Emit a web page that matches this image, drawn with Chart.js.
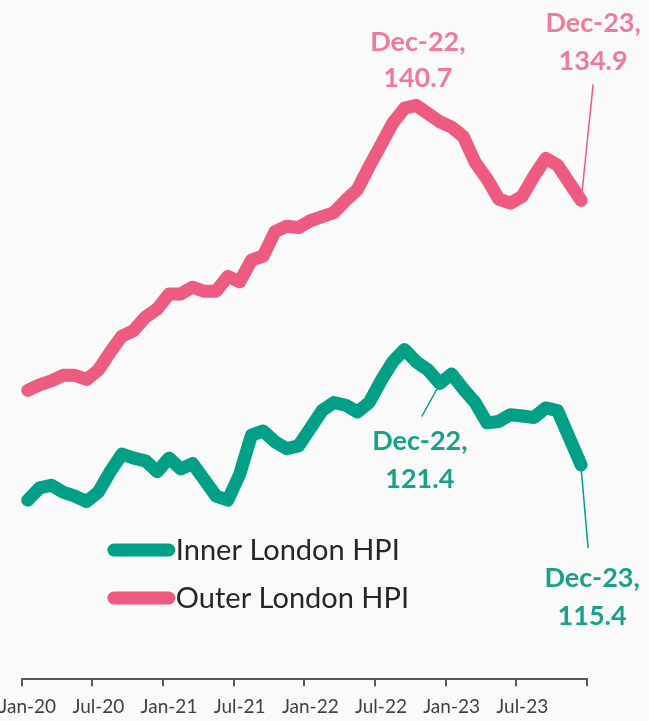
<!DOCTYPE html>
<html>
<head>
<meta charset="utf-8">
<script src="https://cdn.jsdelivr.net/npm/chart.js@4.4.0/dist/chart.umd.min.js"></script>
<style>
html, body { margin: 0; padding: 0; background: #fafafa; overflow: hidden; }
#wrap { position: absolute; left: -10px; top: 0; width: 659px; height: 721px; }
</style>
</head>
<body>
<div id="wrap"><canvas id="chart"></canvas></div>
<script>
// monthly categories, Jan-20 .. Dec-23
const months = [
    'Jan-20', 'Feb-20', 'Mar-20', 'Apr-20', 'May-20', 'Jun-20', 'Jul-20', 'Aug-20', 'Sep-20', 'Oct-20', 'Nov-20', 'Dec-20',
    'Jan-21', 'Feb-21', 'Mar-21', 'Apr-21', 'May-21', 'Jun-21', 'Jul-21', 'Aug-21', 'Sep-21', 'Oct-21', 'Nov-21', 'Dec-21',
    'Jan-22', 'Feb-22', 'Mar-22', 'Apr-22', 'May-22', 'Jun-22', 'Jul-22', 'Aug-22', 'Sep-22', 'Oct-22', 'Nov-22', 'Dec-22',
    'Jan-23', 'Feb-23', 'Mar-23', 'Apr-23', 'May-23', 'Jun-23', 'Jul-23', 'Aug-23', 'Sep-23', 'Oct-23', 'Nov-23', 'Dec-23'
];
const shownTicks = ['Jan-20', 'Jul-20', 'Jan-21', 'Jul-21', 'Jan-22', 'Jul-22', 'Jan-23', 'Jul-23'];

const innerLondon = [
    112.8, 113.7, 113.9, 113.4, 113.1, 112.7, 113.4, 114.9, 116.2, 115.9, 115.7, 114.9,
    115.9, 115.1, 115.5, 114.3, 113.1, 112.8, 114.7, 117.6, 117.9, 117.1, 116.6, 116.8,
    118.1, 119.4, 120.0, 119.8, 119.3, 120.0, 121.6, 123.0, 123.9, 123.0, 122.4, 121.4,
    122.1, 121.0, 120.0, 118.5, 118.6, 119.1, 119.0, 118.9, 119.6, 119.4, 117.4, 115.4
];
const outerLondon = [
    120.9, 121.3, 121.6, 122.0, 122.0, 121.7, 122.4, 123.7, 124.9, 125.3, 126.3, 126.9,
    128.0, 128.0, 128.5, 128.2, 128.2, 129.3, 128.9, 130.5, 130.8, 132.6, 133.0, 132.9,
    133.4, 133.7, 134.0, 134.9, 135.7, 137.4, 139.0, 140.6, 141.7, 141.9, 141.3, 140.7,
    140.3, 139.6, 137.7, 136.5, 135.0, 134.7, 135.2, 136.7, 138.0, 137.5, 136.2, 134.9
];

const seriesNames = ['Inner London HPI', 'Outer London HPI'];
const tealLine = '#00a087';
const pinkLine = '#ed5b80';
const tealText = '#17a08a';
const pinkText = '#f07b98';

function tickColor(c) {
    // only every 6th boundary gets a tick mark (index undefined = closing tick)
    return (c.index === undefined || c.index % 6 === 0) ? '#595959' : 'rgba(0,0,0,0)';
}

const labelPlugin = {
    id: 'callouts',
    afterDatasetsDraw(chart) {
        const ctx = chart.ctx;
        const xs = chart.scales.x, ys = chart.scales.y;
        const area = chart.chartArea;
        const pt = (data, i) => ({ x: xs.getPixelForValue(i), y: ys.getPixelForValue(data[i]) });

        ctx.save();
        // leader lines
        ctx.lineWidth = 1.5;
        let p = pt(outerLondon, 47);
        ctx.strokeStyle = pinkLine;
        ctx.beginPath(); ctx.moveTo(p.x + 12, p.y - 116); ctx.lineTo(p.x + 1, p.y - 9); ctx.stroke();
        ctx.strokeStyle = tealLine;
        p = pt(innerLondon, 35);
        ctx.beginPath(); ctx.moveTo(p.x - 18, p.y + 33); ctx.lineTo(p.x - 1, p.y + 2); ctx.stroke();
        p = pt(innerLondon, 47);
        ctx.beginPath(); ctx.moveTo(p.x, p.y + 3); ctx.lineTo(p.x + 7, p.y + 83); ctx.stroke();

        // callout text
        ctx.font = 'bold 27px Lato';
        ctx.textAlign = 'center';
        ctx.textBaseline = 'middle';
        const write = (data, i, color, dx, dy1, dy2) => {
            const q = pt(data, i);
            ctx.fillStyle = color;
            ctx.fillText(months[i] + ',', q.x + dx, q.y + dy1);
            ctx.fillText(data[i].toFixed(1), q.x + dx, q.y + dy2);
        };
        write(outerLondon, 35, pinkText, -22, -79, -43);
        write(outerLondon, 47, pinkText, 12, -177, -139);
        write(innerLondon, 35, tealText, -20, 58, 96);
        write(innerLondon, 47, tealText, 11, 113, 151);

        // legend inside the plot
        const lx = area.left + 92, ly = area.top + 530;
        ctx.lineCap = 'round';
        ctx.lineWidth = 13;
        [tealLine, pinkLine].forEach((col, k) => {
            const yy = ly + k * 48;
            ctx.strokeStyle = col;
            ctx.beginPath(); ctx.moveTo(lx, yy); ctx.lineTo(lx + 55, yy); ctx.stroke();
            ctx.fillStyle = '#262626';
            ctx.font = '29px Lato';
            ctx.textAlign = 'left';
            ctx.fillText(seriesNames[k], lx + 62, yy + 1);
        });
        ctx.restore();
    }
};

const chart = new Chart(document.getElementById('chart').getContext('2d'), {
    type: 'line',
    data: {
        labels: months,
        datasets: [{
            label: seriesNames[0],
            data: innerLondon,
            borderColor: tealLine,
            borderWidth: 13,
            borderCapStyle: 'round',
            borderJoinStyle: 'round',
            pointRadius: 0,
            tension: 0
        }, {
            label: seriesNames[1],
            data: outerLondon,
            borderColor: pinkLine,
            borderWidth: 13,
            borderCapStyle: 'round',
            borderJoinStyle: 'round',
            pointRadius: 0,
            tension: 0
        }]
    },
    options: {
        responsive: true,
        maintainAspectRatio: false,
        animation: false,
        layout: { padding: { left: 31, right: 62, top: 20, bottom: -6 } },
        plugins: { legend: { display: false }, tooltip: { enabled: false } },
        scales: {
            x: {
                offset: true,
                grid: {
                    offset: true,
                    drawOnChartArea: false,
                    drawTicks: true,
                    tickLength: 7,
                    lineWidth: 2,
                    color: tickColor,
                    tickColor: tickColor
                },
                border: { display: true, color: '#595959', width: 2 },
                ticks: {
                    autoSkip: false,
                    maxRotation: 0,
                    minRotation: 0,
                    padding: 9,
                    color: '#404040',
                    font: { family: 'Lato', size: 19 },
                    callback: function (v, i) {
                        const lab = this.getLabelForValue(v);
                        return shownTicks.includes(lab) ? lab : '';
                    }
                }
            },
            y: {
                display: false,
                min: 99.6,
                max: 148.2
            }
        }
    },
    plugins: [labelPlugin]
});
</script>
</body>
</html>
